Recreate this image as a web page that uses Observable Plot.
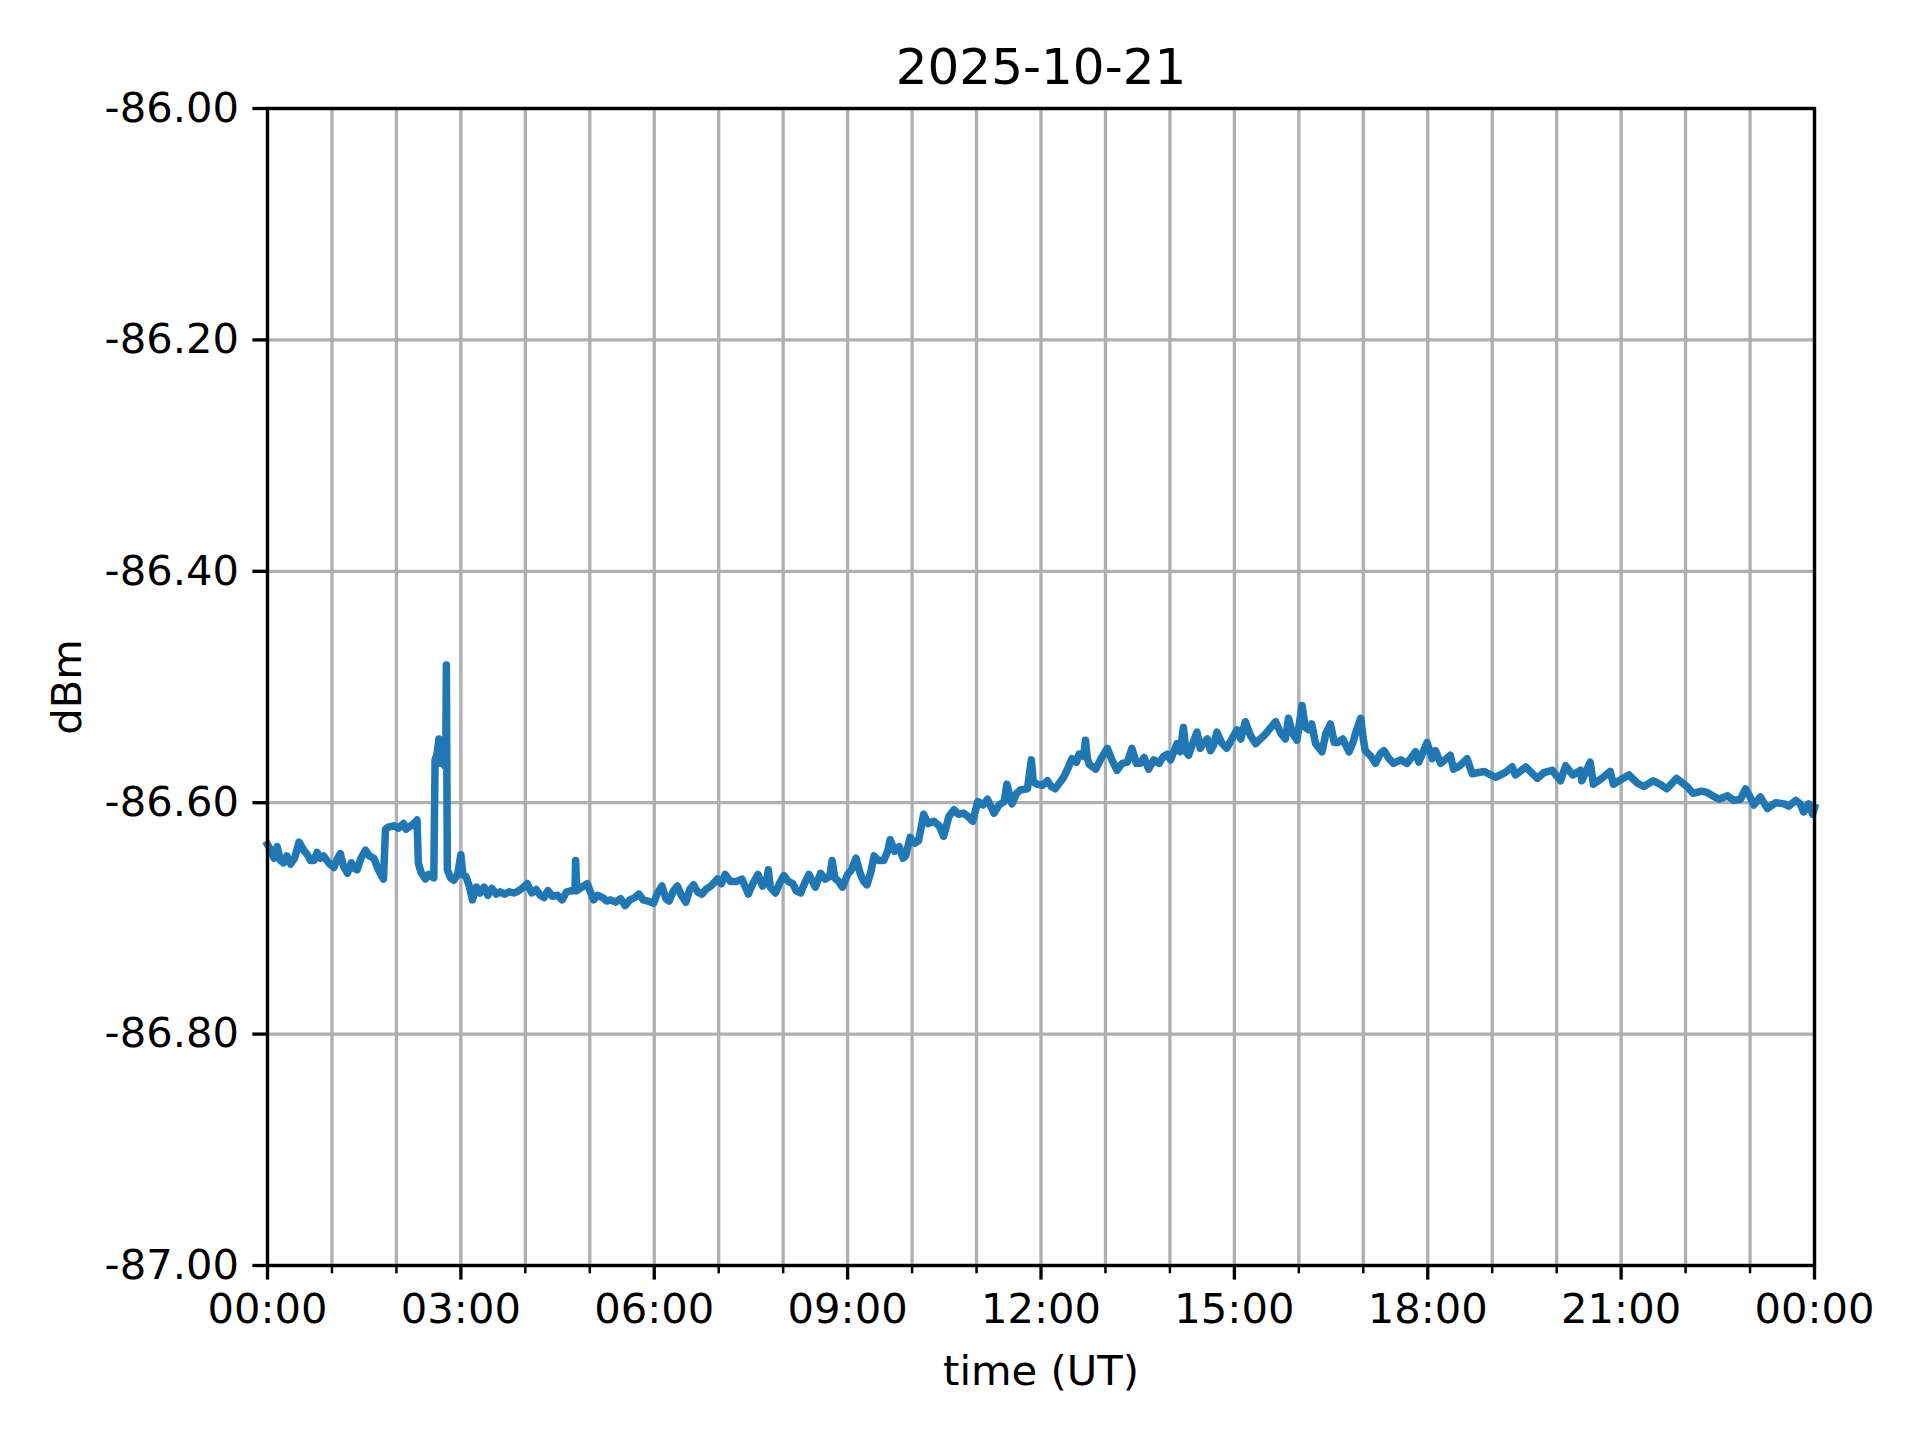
<!DOCTYPE html>
<html>
<head>
<meta charset="utf-8">
<script src="https://cdn.jsdelivr.net/npm/d3@7"></script>
<script src="https://cdn.jsdelivr.net/npm/@observablehq/plot@0.6"></script>
<style>
  html, body { margin: 0; padding: 0; background: #fff; }
</style>
</head>
<body>
<div id="chart"></div>
<script>
const title = "2025-10-21";
const xLabel = "time (UT)";
const yLabel = "dBm";
const yTicks = [-87, -86.8, -86.6, -86.4, -86.2, -86];
const xMajorTicks = [0, 3, 6, 9, 12, 15, 18, 21, 24];
const xMinorTicks = [1, 2, 4, 5, 7, 8, 10, 11, 13, 14, 16, 17, 19, 20, 22, 23];
const xGridTicks = d3.range(0, 25);

// time in hours (UT) and signal level (dBm)
const hours = [
  0.00,0.05,0.10,0.15,0.20,0.25,0.30,0.36,0.42,0.49,0.56,0.62,0.67,0.72,0.77,0.82,0.87,0.95,
  1.03,1.08,1.13,1.18,1.24,1.30,1.35,1.39,1.45,1.52,1.58,1.65,1.72,1.80,1.83,1.88,1.96,
  2.03,2.11,2.15,2.19,2.25,2.32,2.34,2.38,2.45,2.50,2.55,2.58,2.60,2.63,2.66,2.69,2.72,2.75,
  2.765,2.775,2.79,2.84,2.89,2.95,3.00,3.03,3.08,3.13,3.18,3.24,3.30,3.36,3.42,3.48,3.55,
  3.61,3.68,3.75,3.82,3.87,3.95,4.03,4.10,4.17,4.23,4.29,4.35,4.42,4.50,4.57,4.64,4.72,4.77,
  4.78,4.80,4.88,4.96,5.06,5.12,5.20,5.26,5.32,5.40,5.48,5.55,5.62,5.70,5.76,5.83,5.90,5.99,
  6.05,6.12,6.18,6.23,6.30,6.36,6.42,6.49,6.55,6.61,6.67,6.74,6.80,6.88,6.98,7.04,7.10,7.18,
  7.28,7.36,7.46,7.53,7.61,7.68,7.74,7.77,7.80,7.88,7.95,8.01,8.08,8.15,8.20,8.27,8.33,8.40,
  8.50,8.58,8.65,8.72,8.76,8.80,8.86,8.92,9.00,9.06,9.13,9.20,9.25,9.30,9.36,9.41,9.48,9.56,
  9.62,9.66,9.73,9.80,9.86,9.90,9.97,10.04,10.10,10.18,10.25,10.34,10.42,10.49,10.57,10.65,
  10.72,10.80,10.87,10.94,11.02,11.10,11.17,11.27,11.35,11.43,11.47,11.55,11.62,11.68,11.79,
  11.85,11.88,11.94,12.02,12.10,12.16,12.22,12.30,12.35,12.42,12.48,12.55,12.59,12.66,12.69,
  12.72,12.75,12.85,12.93,13.03,13.10,13.18,13.26,13.34,13.41,13.48,13.54,13.60,13.67,13.75,
  13.83,13.90,13.96,14.01,14.11,14.16,14.21,14.25,14.29,14.36,14.42,14.47,14.52,14.58,14.63,
  14.68,14.73,14.80,14.88,14.96,15.04,15.10,15.17,15.25,15.33,15.40,15.46,15.55,15.64,15.72,
  15.79,15.84,15.90,15.97,16.05,16.10,16.15,16.20,16.26,16.36,16.42,16.49,16.55,16.60,16.68,
  16.78,16.84,16.88,16.96,17.00,17.03,17.12,17.19,17.26,17.32,17.40,17.47,17.58,17.68,17.81,
  17.86,17.99,18.07,18.12,18.20,18.35,18.40,18.50,18.61,18.69,18.87,19.05,19.20,19.31,19.36,
  19.52,19.70,19.80,19.93,20.06,20.14,20.25,20.37,20.39,20.52,20.57,20.70,20.83,20.88,21.00,
  21.12,21.25,21.35,21.50,21.60,21.71,21.86,22.02,22.12,22.25,22.33,22.45,22.52,22.65,22.75,
  22.85,22.93,23.00,23.06,23.16,23.27,23.40,23.53,23.60,23.71,23.78,23.83,23.91,23.97,24.00
];
const dbm = [
  -86.636,-86.641,-86.648,-86.638,-86.650,-86.652,-86.646,-86.653,-86.648,-86.634,-86.641,-86.645,-86.650,-86.650,-86.643,-86.648,-86.646,-86.652,
  -86.656,-86.649,-86.644,-86.655,-86.661,-86.652,-86.657,-86.658,-86.648,-86.641,-86.646,-86.648,-86.658,-86.666,-86.623,-86.621,-86.620,
  -86.622,-86.618,-86.623,-86.621,-86.619,-86.615,-86.652,-86.660,-86.666,-86.662,-86.664,-86.665,-86.563,-86.558,-86.545,-86.566,-86.555,-86.568,
  -86.565,-86.481,-86.658,-86.665,-86.667,-86.662,-86.645,-86.662,-86.664,-86.672,-86.684,-86.673,-86.678,-86.673,-86.680,-86.674,-86.679,
  -86.677,-86.679,-86.677,-86.678,-86.677,-86.674,-86.670,-86.678,-86.675,-86.680,-86.682,-86.676,-86.681,-86.680,-86.684,-86.677,-86.676,-86.676,
  -86.650,-86.676,-86.673,-86.670,-86.684,-86.680,-86.682,-86.685,-86.684,-86.686,-86.683,-86.689,-86.684,-86.682,-86.679,-86.684,-86.685,-86.687,
  -86.678,-86.672,-86.683,-86.685,-86.676,-86.672,-86.680,-86.686,-86.675,-86.671,-86.677,-86.679,-86.675,-86.672,-86.666,-86.670,-86.662,-86.668,
  -86.668,-86.666,-86.679,-86.670,-86.662,-86.672,-86.668,-86.658,-86.673,-86.678,-86.669,-86.663,-86.668,-86.670,-86.676,-86.678,-86.670,-86.662,
  -86.673,-86.661,-86.666,-86.664,-86.650,-86.665,-86.668,-86.673,-86.662,-86.658,-86.648,-86.662,-86.668,-86.671,-86.660,-86.646,-86.650,-86.650,
  -86.642,-86.632,-86.642,-86.638,-86.648,-86.646,-86.630,-86.635,-86.633,-86.610,-86.618,-86.616,-86.620,-86.629,-86.612,-86.606,
  -86.610,-86.609,-86.612,-86.616,-86.599,-86.602,-86.597,-86.609,-86.602,-86.599,-86.584,-86.601,-86.592,-86.589,-86.588,
  -86.563,-86.582,-86.584,-86.585,-86.581,-86.586,-86.588,-86.582,-86.578,-86.570,-86.562,-86.565,-86.558,-86.560,-86.546,
  -86.562,-86.567,-86.571,-86.562,-86.553,-86.563,-86.572,-86.566,-86.565,-86.553,-86.566,-86.566,-86.561,-86.571,-86.563,
  -86.566,-86.560,-86.558,-86.563,-86.549,-86.556,-86.535,-86.556,-86.559,-86.548,-86.539,-86.553,-86.548,-86.545,-86.555,
  -86.550,-86.539,-86.548,-86.553,-86.545,-86.537,-86.545,-86.530,-86.542,-86.549,-86.545,-86.542,-86.536,-86.530,-86.540,
  -86.545,-86.527,-86.540,-86.546,-86.516,-86.535,-86.537,-86.532,-86.549,-86.556,-86.540,-86.532,-86.548,-86.548,-86.545,
  -86.556,-86.548,-86.540,-86.527,-86.545,-86.555,-86.560,-86.566,-86.558,-86.555,-86.562,-86.566,-86.563,-86.566,-86.556,
  -86.565,-86.548,-86.562,-86.555,-86.566,-86.559,-86.571,-86.568,-86.562,-86.575,-86.573,-86.578,-86.574,-86.569,-86.576,
  -86.569,-86.579,-86.574,-86.572,-86.581,-86.568,-86.576,-86.572,-86.581,-86.565,-86.584,-86.579,-86.573,-86.584,-86.580,
  -86.576,-86.583,-86.586,-86.581,-86.584,-86.588,-86.579,-86.586,-86.592,-86.590,-86.591,-86.595,-86.597,-86.594,-86.598,
  -86.597,-86.588,-86.595,-86.602,-86.595,-86.605,-86.600,-86.601,-86.603,-86.598,-86.601,-86.608,-86.601,-86.610,-86.604
];

const data = hours.map((h, i) => ({hour: h, dbm: dbm[i]}));
const fmtHour = h => String(h % 24).padStart(2, "0") + ":00";

const chart = Plot.plot({
  width: 1920,
  height: 1440,
  marginLeft: 267,
  marginRight: 106,
  marginTop: 108,
  marginBottom: 175,
  style: {fontFamily: "'DejaVu Sans', sans-serif", fontSize: "41.67px", color: "#000", background: "#fff"},
  x: {domain: [0, 24]},
  y: {domain: [-87, -86]},
  marks: [
    Plot.gridX(xGridTicks, {stroke: "#b0b0b0", strokeOpacity: 1, strokeWidth: 3.33}),
    Plot.gridY(yTicks, {stroke: "#b0b0b0", strokeOpacity: 1, strokeWidth: 3.33}),
    Plot.lineY(data, {x: "hour", y: "dbm", stroke: "#1f77b4", strokeWidth: 7.5, strokeLinejoin: "round", strokeLinecap: "square"}),
    Plot.frame({stroke: "#000", strokeWidth: 3.33}),
    Plot.axisX({ticks: xMajorTicks, tickFormat: fmtHour, tickSize: 14.6, tickPadding: 13, strokeWidth: 3.33, fontSize: 41.67, label: null}),
    Plot.axisX({ticks: xMinorTicks, tickFormat: () => "", tickSize: 8.3, strokeWidth: 2.5, label: null}),
    Plot.axisY({ticks: yTicks, tickFormat: v => v.toFixed(2), tickSize: 14.6, tickPadding: 14, strokeWidth: 3.33, fontSize: 41.67, label: null}),
    Plot.text([title], {text: d => d, frameAnchor: "top", lineAnchor: "middle", dy: -41, fontSize: 50}),
    Plot.text([xLabel], {text: d => d, frameAnchor: "bottom", lineAnchor: "middle", dy: 106, fontSize: 41.67}),
    Plot.text([yLabel], {text: d => d, frameAnchor: "left", textAnchor: "middle", lineAnchor: "middle", rotate: -90, dx: -200, fontSize: 41.67})
  ]
});
document.getElementById("chart").appendChild(chart);
</script>
</body>
</html>
